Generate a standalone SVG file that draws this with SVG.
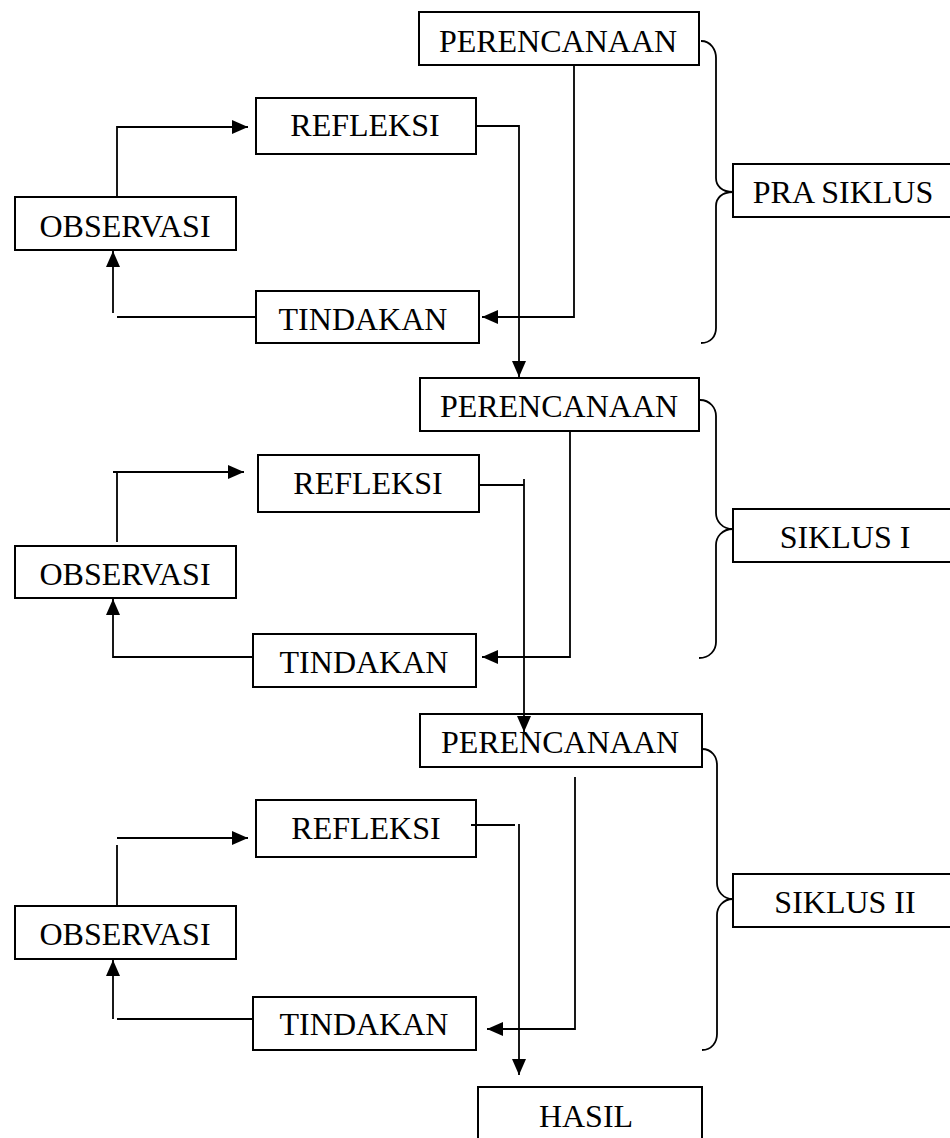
<svg xmlns="http://www.w3.org/2000/svg" width="950" height="1138" viewBox="0 0 950 1138">
<style>
.box{fill:#fff;stroke:#000;stroke-width:2}
.t{font-family:"Liberation Serif","Times New Roman",serif;font-size:32px;fill:#000;text-anchor:middle}
.ln{fill:none;stroke:#000;stroke-width:1.8}
.br{fill:none;stroke:#000;stroke-width:1.8}
</style>
<defs>
<marker id="ah" viewBox="0 0 16 14" refX="16" refY="7" markerWidth="16" markerHeight="14" markerUnits="userSpaceOnUse" orient="auto">
<path d="M0,0 L16,7 L0,14 Z" fill="#000"/>
</marker>
</defs>
<rect width="950" height="1138" fill="#fff"/>

<g id="perencanaan1"><rect class="box" x="419" y="12" width="280" height="53"/><text class="t" x="558" y="52">PERENCANAAN</text></g>
<g id="refleksi1"><rect class="box" x="256" y="98" width="220" height="56"/><text class="t" x="365" y="136">REFLEKSI</text></g>
<g id="observasi1"><rect class="box" x="15" y="197" width="221" height="53"/><text class="t" x="125" y="237">OBSERVASI</text></g>
<g id="tindakan1"><rect class="box" x="256" y="291" width="223" height="52"/><text class="t" x="363" y="330">TINDAKAN</text></g>
<g id="prasiklus"><rect class="box" x="733" y="164" width="230" height="53"/><text class="t" x="843" y="203">PRA SIKLUS</text></g>

<g id="perencanaan2"><rect class="box" x="420" y="378" width="279" height="53"/><text class="t" x="559" y="417">PERENCANAAN</text></g>
<g id="refleksi2"><rect class="box" x="258" y="455" width="221" height="57"/><text class="t" x="368" y="494">REFLEKSI</text></g>
<g id="observasi2"><rect class="box" x="15" y="546" width="221" height="52"/><text class="t" x="125" y="585">OBSERVASI</text></g>
<g id="tindakan2"><rect class="box" x="253" y="634" width="223" height="53"/><text class="t" x="364" y="673">TINDAKAN</text></g>
<g id="siklus1"><rect class="box" x="733" y="509" width="230" height="53"/><text class="t" x="845" y="548">SIKLUS I</text></g>

<g id="perencanaan3"><rect class="box" x="420" y="714" width="282" height="53"/><text class="t" x="560" y="753">PERENCANAAN</text></g>
<g id="refleksi3"><rect class="box" x="256" y="800" width="220" height="57"/><text class="t" x="366" y="839">REFLEKSI</text></g>
<g id="observasi3"><rect class="box" x="15" y="906" width="221" height="53"/><text class="t" x="125" y="945">OBSERVASI</text></g>
<g id="tindakan3"><rect class="box" x="253" y="997" width="223" height="53"/><text class="t" x="364" y="1035">TINDAKAN</text></g>
<g id="siklus2"><rect class="box" x="733" y="874" width="230" height="53"/><text class="t" x="845" y="913">SIKLUS II</text></g>

<g id="hasil"><rect class="box" x="478" y="1087" width="224" height="70"/><text class="t" x="586" y="1127">HASIL</text></g>

<g id="connectors">
<path class="ln" d="M574,65 V317 H482" marker-end="url(#ah)"/>
<path class="ln" d="M256,317 H117"/>
<path class="ln" d="M113,313 V251" marker-end="url(#ah)"/>
<path class="ln" d="M117,197 V127 H248" marker-end="url(#ah)"/>
<path class="ln" d="M476,126 H519 V377" marker-end="url(#ah)"/>

<path class="ln" d="M570,431 V657 H482" marker-end="url(#ah)"/>
<path class="ln" d="M252,657 H113 V599" marker-end="url(#ah)"/>
<path class="ln" d="M117,542 V472"/>
<path class="ln" d="M113,472 H244" marker-end="url(#ah)"/>
<path class="ln" d="M479,485 H524"/>
<path class="ln" d="M524,479 V732" marker-end="url(#ah)"/>

<path class="ln" d="M575,777 V1029 H487" marker-end="url(#ah)"/>
<path class="ln" d="M252,1019 H117"/>
<path class="ln" d="M113,1019 V960" marker-end="url(#ah)"/>
<path class="ln" d="M117,906 V845"/>
<path class="ln" d="M117,838 H248" marker-end="url(#ah)"/>
<path class="ln" d="M471,825 H515"/>
<path class="ln" d="M519,824 V1075" marker-end="url(#ah)"/>

<path class="br" d="M701,41 C711,41 716,50 716,58 V178 C716,186 722,192 733,192 C722,192 716,198 716,206 V328 C716,336 711,343 701,343"/>
<path class="br" d="M700,400 C710,400 716,408 716,416 V513 C716,521 722,529 733,529 C722,529 716,537 716,545 V642 C716,650 710,658 699,658"/>
<path class="br" d="M702,749 C712,749 717,757 717,765 V883 C717,891 723,899 733,899 C723,899 717,907 717,915 V1034 C717,1042 712,1050 702,1050"/>
</g>
</svg>
